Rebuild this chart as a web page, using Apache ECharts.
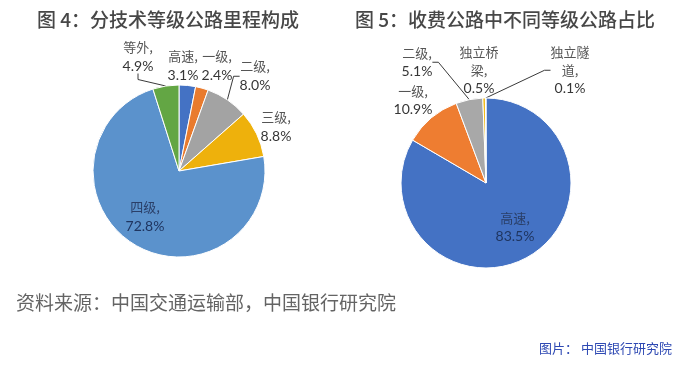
<!DOCTYPE html>
<html>
<head>
<meta charset="utf-8">
<script src="https://cdn.jsdelivr.net/npm/echarts@6/dist/echarts.min.js"></script>
<style>
html,body{margin:0;padding:0;background:#fff;}
#main{width:678px;height:365px;}
</style>
</head>
<body>
<div id="main"></div>
<script>
// ---- data ----
const leftTitle = '图 4：分技术等级公路里程构成';
const rightTitle = '图 5：收费公路中不同等级公路占比';
const sourceText = '资料来源：中国交通运输部，中国银行研究院';
const creditText = '图片： 中国银行研究院';

const leftCategories = ['高速', '一级', '二级', '三级', '四级', '等外'];
const leftValues = [3.1, 2.4, 8.0, 8.8, 72.8, 4.9];

const rightCategories = ['高速', '一级', '二级', '独立桥梁', '独立隧道'];
const rightValues = [83.5, 10.9, 5.1, 0.5, 0.1];

// ---- styling / layout (not data) ----
const leftColors = ['#4472C4', '#E97B2E', '#A3A3A3', '#EEB10C', '#5B92CC', '#63A644'];
const rightColors = ['#4472C4', '#EE7D31', '#A8A8A8', '#F2BB1C', '#5B9BD5'];
const leftLabelPos = [[183, 66], [217, 66], [255, 76], [276, 127], [145, 217], [138, 57]];
const rightLabelPos = [[515, 227], [413, 100], [417, 62], [479, 70], [570, 70]];
const leftLine = [false, false, true, false, false, true];
const rightLine = [false, false, true, false, true];
const leftInside = [false, false, false, false, true, false];
const rightInside = [true, false, false, false, false];

function nameLines(name) {
  if (name.length > 3) return [name.slice(0, 3), name.slice(3) + ','];
  return [name + ','];
}
function makeFormatter(insideArr) {
  return function (p) {
    const ins = insideArr[p.dataIndex];
    const nk = ins ? 'ni' : 'n';
    const vk = ins ? 'vi' : 'v';
    const lines = nameLines(p.name).map(s => '{' + nk + '|' + s + '}');
    lines.push('{' + vk + '|' + Number(p.value).toFixed(1) + '%}');
    return lines.join('\n');
  };
}
function makeRich(lh) {
  return {
    n: {fontFamily: '"Noto Sans CJK SC"', fontSize: 13, color: '#555555', lineHeight: lh, align: 'center'},
    v: {fontFamily: 'Lato', fontSize: 14, color: '#363636', lineHeight: lh, align: 'center'},
    ni: {fontFamily: '"Noto Sans CJK SC"', fontSize: 13, color: '#2a3f68', lineHeight: lh, align: 'center'},
    vi: {fontFamily: 'Lato', fontSize: 14, color: '#1F3560', lineHeight: lh, align: 'center'}
  };
}
function buildData(cats, vals, colors, lineArr) {
  return cats.map((c, i) => ({
    name: c,
    value: vals[i],
    itemStyle: {color: colors[i]},
    labelLine: {show: lineArr[i]}
  }));
}
function makeSeries(cats, vals, colors, lineArr, insideArr, posArr, center, radius, lh) {
  return {
    type: 'pie',
    center: center,
    radius: radius,
    startAngle: 90,
    clockwise: true,
    avoidLabelOverlap: false,
    animation: false,
    silent: true,
    itemStyle: {borderColor: '#ffffff', borderWidth: 1},
    label: {
      show: true,
      position: 'outside',
      formatter: makeFormatter(insideArr),
      rich: makeRich(lh)
    },
    labelLine: {
      length: 6,
      length2: 6,
      lineStyle: {color: '#3a3a3a', width: 1}
    },
    labelLayout: function (params) {
      const p = posArr[params.dataIndex];
      return {x: p[0], y: p[1], align: 'center', verticalAlign: 'middle'};
    },
    data: buildData(cats, vals, colors, lineArr)
  };
}

const chart = echarts.init(document.getElementById('main'), null, {renderer: 'canvas'});
chart.setOption({
  backgroundColor: '#ffffff',
  animation: false,
  series: [
    makeSeries(leftCategories, leftValues, leftColors, leftLine, leftInside, leftLabelPos, [179, 171], 86, 19),
    makeSeries(rightCategories, rightValues, rightColors, rightLine, rightInside, rightLabelPos, [486, 183], 85, 18)
  ],
  graphic: [
    {type: 'text', x: 37, y: 20, style: {text: leftTitle, font: '500 19px "Noto Sans CJK SC"', fill: '#474747', verticalAlign: 'middle'}},
    {type: 'text', x: 355, y: 20, style: {text: rightTitle, font: '500 19px "Noto Sans CJK SC"', fill: '#474747', verticalAlign: 'middle'}},
    {type: 'text', x: 16, y: 303, style: {text: sourceText, font: '19px "Noto Sans CJK SC"', fill: '#646464', verticalAlign: 'middle'}},
    {type: 'text', x: 539, y: 348, style: {text: creditText, font: '13px "Noto Sans CJK SC"', fill: '#2E49B3', verticalAlign: 'middle'}}
  ]
});
</script>
</body>
</html>
